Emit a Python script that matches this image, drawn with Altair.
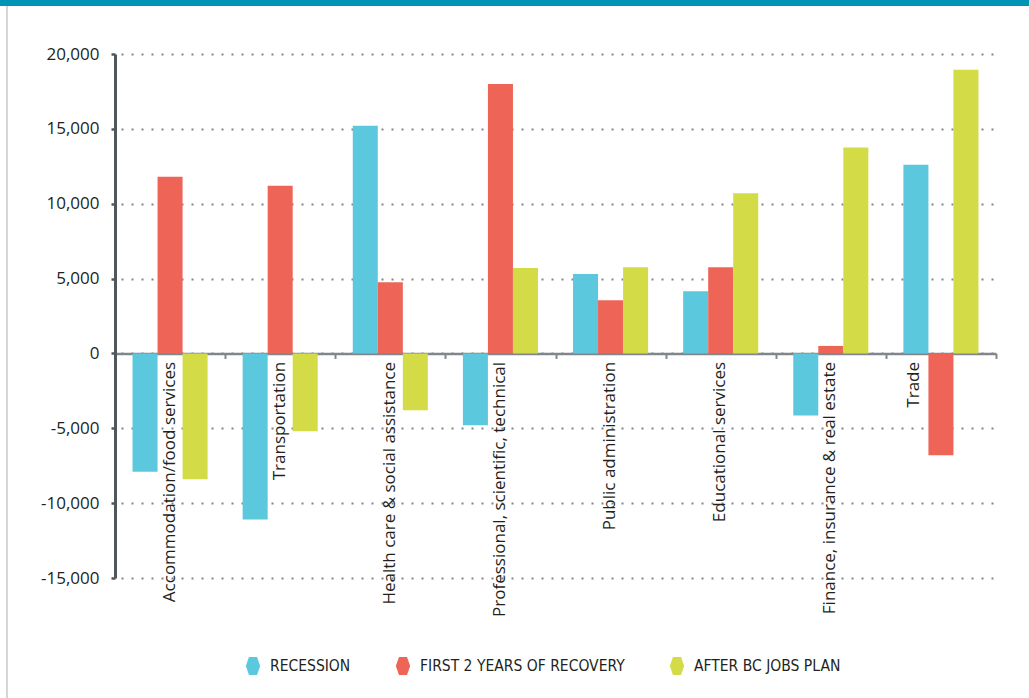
import altair as alt
import pandas as pd

categories = [
    "Accommodation/food services",
    "Transportation",
    "Health care & social assistance",
    "Professional, scientific, technical",
    "Public administration",
    "Educational services",
    "Finance, insurance & real estate",
    "Trade",
]
series = ["RECESSION", "FIRST 2 YEARS OF RECOVERY", "AFTER BC JOBS PLAN"]
recession = [-7900, -11100, 15200, -4800, 5300, 4150, -4150, 12600]
recovery = [11800, 11200, 4750, 18000, 3550, 5750, 500, -6800]
after_plan = [-8400, -5200, -3800, 5700, 5750, 10700, 13750, 18950]
colors = ["#5bc8de", "#ee6557", "#d3dc47"]
y_ticks = [-15000, -10000, -5000, 0, 5000, 10000, 15000, 20000]

rows = []
for s, vals in zip(series, [recession, recovery, after_plan]):
    for c, v in zip(categories, vals):
        rows.append({"category": c, "series": s, "value": v})
df = pd.DataFrame(rows)

W, H = 881, 524
Y_MIN, Y_MAX = -15000, 20000
zero_offset = -(H - H * (Y_MAX - 0) / (Y_MAX - Y_MIN))

hexagon = "M-0.8,0L-0.45,-1L0.45,-1L0.8,0L0.45,1L-0.45,1Z"
FONT = "Open Sans"
LEGEND_FONT = "Liberation Sans Narrow, DejaVu Sans Condensed, Roboto Condensed, Roboto"

bars = alt.Chart(df).mark_bar().encode(
    x=alt.X(
        "category:N",
        sort=categories,
        scale=alt.Scale(paddingInner=0, paddingOuter=0),
        axis=alt.Axis(
            title=None,
            orient="bottom",
            offset=zero_offset,
            domainColor="#80868b",
            domainWidth=2.5,
            tickBand="extent",
            tickColor="#80868b",
            tickSize=5,
            tickWidth=2,
            labelAngle=270,
            labelAlign="right",
            labelBaseline="middle",
            labelPadding=3,
            labelOffset={
                "condition": {"test": "datum.value === 'Trade'", "value": -27},
                "value": -1,
            },
            labelFont=FONT,
            labelFontSize=17,
            labelColor="#231f20",
            labelOverlap=False,
            labelLimit=400,
            grid=False,
        ),
    ),
    xOffset=alt.XOffset(
        "series:N", sort=series, scale=alt.Scale(paddingInner=0, paddingOuter=0.7)
    ),
    y=alt.Y(
        "value:Q",
        scale=alt.Scale(domain=[Y_MIN, Y_MAX], nice=False),
        axis=alt.Axis(
            title=None,
            values=y_ticks,
            format=",.0f",
            labelExpr="replace(datum.label, '\u2212', '-')",
            domainColor="#50575c",
            domainWidth=3,
            tickColor="#50575c",
            tickSize=4,
            tickWidth=2.5,
            labelFont=FONT,
            labelFontSize=17,
            labelColor="#231f20",
            labelPadding=12,
            grid=True,
            gridColor="#7f8589",
            gridWidth=2,
            gridDash=[2, 8],
            gridDashOffset=-6,
        ),
    ),
    color=alt.Color(
        "series:N",
        sort=series,
        scale=alt.Scale(domain=series, range=colors),
        legend=alt.Legend(
            title=None,
            orient="none",
            direction="horizontal",
            legendX=129,
            legendY=603,
            symbolType=hexagon,
            symbolSize=320,
            symbolStrokeWidth=0,
            symbolOpacity=1,
            labelFont=LEGEND_FONT,
            labelFontSize=15.5,
            labelColor="#231f20",
            labelOffset=8,
            columnPadding=43,
            labelLimit=400,
        ),
    ),
)

top_band = alt.Chart().mark_rule(color="#0095b5", strokeWidth=6).encode(
    x=alt.value(-115), x2=alt.value(W + 33), y=alt.value(-51)
)
left_border = alt.Chart().mark_rule(color="#c8c8c8", strokeWidth=1.5).encode(
    x=alt.value(-108), y=alt.value(-48), y2=alt.value(H + 120)
)

chart = (
    alt.layer(bars, top_band, left_border)
    .properties(
        width=W,
        height=H,
        autosize=alt.AutoSizeParams(type="none"),
        padding={"left": 115, "top": 54, "right": 33, "bottom": 120},
        background="white",
    )
    .configure_view(stroke=None)
)

chart.save("out.html", embed_options={"renderer": "svg", "actions": False})
